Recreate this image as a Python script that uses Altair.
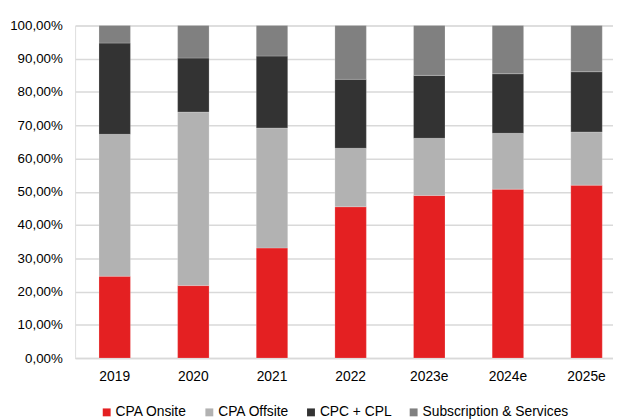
import altair as alt
import pandas as pd

years = ["2019", "2020", "2021", "2022", "2023e", "2024e", "2025e"]
series = ["CPA Onsite", "CPA Offsite", "CPC + CPL", "Subscription & Services"]
colors = ["#E42022", "#B2B2B2", "#333333", "#808080"]

cpa_onsite = [0.246, 0.218, 0.331, 0.455, 0.489, 0.508, 0.520]
cpa_offsite = [0.427, 0.522, 0.361, 0.176, 0.172, 0.168, 0.160]
cpc_cpl = [0.274, 0.162, 0.216, 0.207, 0.189, 0.179, 0.181]
subscription = [0.053, 0.098, 0.092, 0.162, 0.150, 0.145, 0.139]

rows = []
for i, y in enumerate(years):
    for j, (s, vals) in enumerate(zip(series, [cpa_onsite, cpa_offsite, cpc_cpl, subscription])):
        rows.append({"year": y, "series": s, "value": vals[i], "order": j})
df = pd.DataFrame(rows)

font = "Liberation Sans"

chart = alt.Chart(df).mark_bar(stroke="#ffffff", strokeWidth=0.4, strokeOpacity=0.5).encode(
    x=alt.X("year:N", sort=years, title=None,
            scale=alt.Scale(paddingInner=0.6, paddingOuter=0.22, align=0.69),
            axis=alt.Axis(labelAngle=0, tickSize=0, labelPadding=12, domainColor="#D9D9D9",
                          domainWidth=1.5, labelFont=font, labelFontSize=14, labelColor="#000000")),
    y=alt.Y("value:Q", stack="zero", title=None,
            scale=alt.Scale(domain=[0, 1], nice=False),
            axis=alt.Axis(values=[i / 10 for i in range(11)], labelExpr="replace(format(datum.value*100, '.2f'), '.', ',') + '%'",
                          tickSize=0, labelPadding=13, domain=False, gridColor="#D9D9D9", gridWidth=1.5,
                          labelFont=font, labelFontSize=13.5, labelColor="#000000")),
    color=alt.Color("series:N", sort=series, scale=alt.Scale(domain=series, range=colors),
                    legend=alt.Legend(title=None, orient="none", direction="horizontal",
                                      legendX=25, legendY=385, symbolType="square", symbolSize=64,
                                      symbolStrokeWidth=0, labelFont=font, labelFontSize=14,
                                      labelColor="#000000", labelOffset=2, columnPadding=15)),
    order=alt.Order("order:Q", sort="ascending"),
).properties(
    width=545, height=337,
    autosize=alt.AutoSizeParams(type="none"),
    padding={"left": 68, "top": 15, "right": 0, "bottom": 60},
).configure_view(stroke=None).configure(background="#ffffff")

chart.save("out.html", embed_options={"renderer": "svg", "actions": False})
